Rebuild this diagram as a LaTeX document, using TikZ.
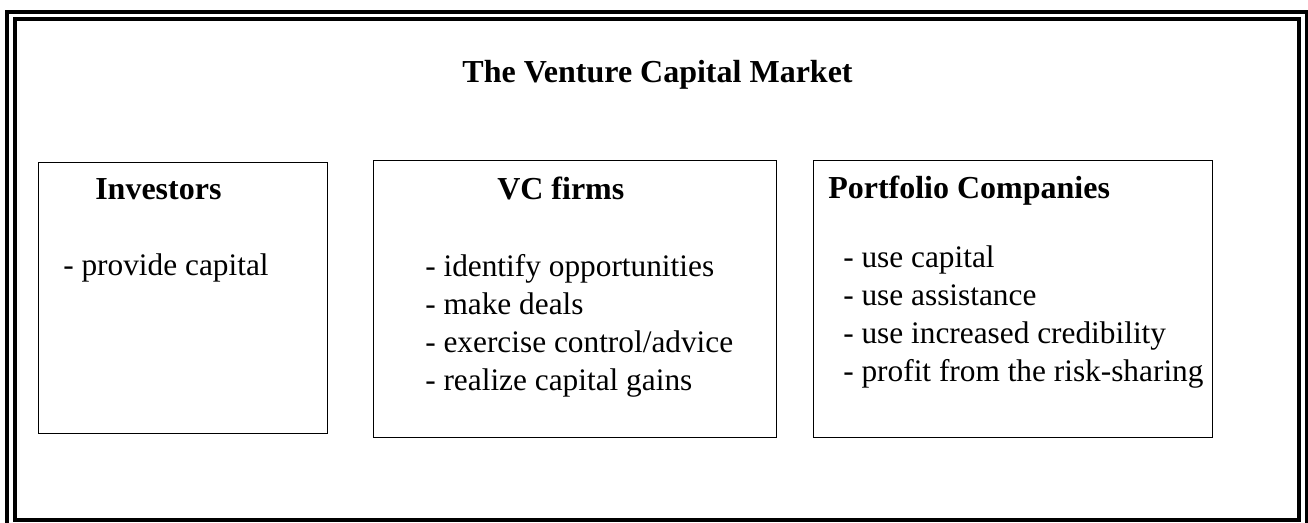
\documentclass[tikz,border=0pt]{standalone}
\usepackage{fontspec}
\setmainfont{Liberation Serif}
\usetikzlibrary{positioning}

\begin{document}
\begin{tikzpicture}[
    x=0.75pt, y=-0.75pt, % one unit is one pixel of the page
    % Styles
    frame/.style={ % Double frame round the market
        draw,
        line width=3pt
    },
    panel/.style={ % One box for each party
        rectangle,
        draw,
        line width=1.1pt,
        inner sep=0pt,
        anchor=north west
    },
    heading/.style={
        font=\fontsize{24}{28.8}\selectfont\bfseries,
        inner sep=0pt,
        anchor=base west
    },
    item/.style={
        font=\fontsize{23.5}{28.2}\selectfont,
        inner sep=0pt,
        anchor=base west
    }
]
    \useasboundingbox (0,0) rectangle (1308,523);

    % Double frame
    \draw[frame] (7,12) rectangle (1306.5,530);
    \draw[frame] (15,19.5) rectangle (1299,520);

    % Title
    \node[heading, anchor=base] (title) at (657.5,83) {The Venture Capital Market};

    % Party boxes
    \node[panel, minimum width=216.75pt, minimum height=203.25pt] (investors) at (38,162) {};
    \node[panel, minimum width=302.25pt, minimum height=207.75pt] (vcfirms) at (373,160) {};
    \node[panel, minimum width=299.25pt, minimum height=207.75pt] (portfolio) at (813,160) {};

    % Box headings
    \node[heading] (invhead) at (95,200) {Investors};
    \node[heading] (vchead) at (497,200) {VC firms};
    \node[heading] (porthead) at (828,199) {Portfolio Companies};

    % Roles of each party
    \node[item] (inv0) at (63,276) {- provide capital};
    \foreach \txt [count=\i from 0] in {- identify opportunities, - make deals,
        - exercise control/advice, - realize capital gains}
        \node[item] (vc\i) at (425,{277+37.8*\i}) {\txt};
    \foreach \txt [count=\i from 0] in {- use capital, - use assistance,
        - use increased credibility, - profit from the risk-sharing}
        \node[item] (port\i) at (843,{268+37.7*\i}) {\txt};
\end{tikzpicture}
\end{document}
